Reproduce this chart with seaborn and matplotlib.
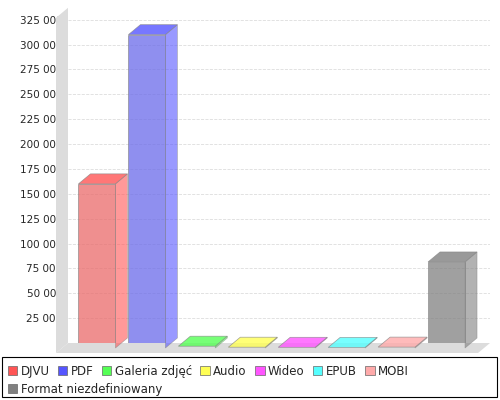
import matplotlib.pyplot as plt
import seaborn as sns
import numpy as np
from matplotlib.patches import Polygon, Rectangle
from matplotlib.ticker import FuncFormatter

categories = ['DJVU', 'PDF', 'Galeria zdjęć', 'Audio', 'Wideo', 'EPUB', 'MOBI', 'Format niezdefiniowany']
values = [165000, 315000, 1800, 800, 700, 600, 900, 86500]
colors = ['#ff5555', '#5555ff', '#55ff55', '#ffff55', '#ff55ff', '#55ffff', '#ffaaaa', '#808080']

sns.set_style('white')
plt.rcParams['font.family'] = ['DejaVu Sans']

fig = plt.figure(figsize=(5, 4), dpi=100)
ax = fig.add_axes([0.136, 0.1425, 0.844, 0.838])
sns.barplot(x=categories, y=values, palette=colors, hue=categories, legend=False,
            ax=ax, width=0.74, alpha=0.75, edgecolor='#888888', linewidth=0.6, zorder=3)
ax.set_xlim(-0.7, 7.75)
ax.set_ylim(0, 337000)
ax.set_yticks(np.arange(0, 325001, 25000))
ax.yaxis.set_major_formatter(FuncFormatter(lambda v, p: f'{int(v):,}'.replace(',', ' ')))
ax.tick_params(axis='y', labelsize=7.5, length=2, pad=2)
ax.set_xticks([])
ax.set_xlabel('')
for s in ax.spines.values():
    s.set_visible(False)
ax.grid(axis='y', color='#dddddd', linestyle='--', linewidth=0.6, zorder=0)
ax.set_axisbelow(True)

fig.canvas.draw()
dx, dy = 12, 10
# left wall and floor in display coords
x0d, y0d = ax.transData.transform((ax.get_xlim()[0], 0))
x1d, ytop = ax.transData.transform((ax.get_xlim()[1], ax.get_ylim()[1]))
wall = Polygon([(x0d - dx, y0d - dy), (x0d, y0d), (x0d, ytop), (x0d - dx, ytop - dy)],
               closed=True, transform=None, facecolor='#dcdcdc', edgecolor='none', zorder=1)
floor = Polygon([(x0d - dx, y0d - dy), (x1d - dx, y0d - dy), (x1d, y0d), (x0d, y0d)],
                closed=True, transform=None, facecolor='#dcdcdc', edgecolor='none', zorder=1)
fig.patches.extend([wall, floor])

for bar, c in zip(ax.patches, colors):
    (bx0, by0), (bx1, by1) = ax.transData.transform(
        [(bar.get_x(), 0), (bar.get_x() + bar.get_width(), bar.get_height())])
    bar.set_transform(None)
    bar.set_xy((bx0 - dx / 2, by0 - dy / 2))
    bar.set_width(bx1 - bx0)
    bar.set_height(by1 - by0)
    fx0, fy0, fx1, fy1 = bx0 - dx / 2, by0 - dy / 2, bx1 - dx / 2, by1 - dy / 2
    side = Polygon([(fx1, fy0), (fx1 + dx, fy0 + dy), (fx1 + dx, fy1 + dy), (fx1, fy1)],
                   closed=True, transform=None, facecolor=c, alpha=0.6,
                   edgecolor='#888888', linewidth=0.5, zorder=3)
    top = Polygon([(fx0, fy1), (fx0 + dx, fy1 + dy), (fx1 + dx, fy1 + dy), (fx1, fy1)],
                  closed=True, transform=None, facecolor=c, alpha=0.8,
                  edgecolor='#888888', linewidth=0.5, zorder=3)
    fig.patches.extend([side, top])

fig.patches.append(Rectangle((0.004, 0.008), 0.99, 0.1, transform=fig.transFigure,
                             facecolor='white', edgecolor='black', linewidth=0.8))
handles = [Rectangle((0, 0), 1, 1, facecolor=c, edgecolor='#666666', linewidth=0.5) for c in colors]
kw = dict(frameon=False, fontsize=8.5, handlelength=0.8, handleheight=0.8,
          handletextpad=0.3, columnspacing=0.7, borderaxespad=0)
fig.legend(handles[:7], categories[:7], ncol=7, loc='upper left', bbox_to_anchor=(0.006, 0.1), **kw)
fig.legend(handles[7:], categories[7:], loc='upper left', bbox_to_anchor=(0.006, 0.055), **kw)

fig.savefig('out.png', dpi=100)
